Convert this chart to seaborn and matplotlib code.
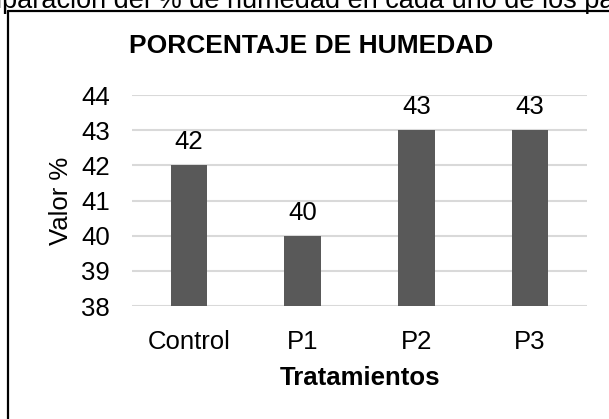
import matplotlib
matplotlib.use("Agg")
import matplotlib.pyplot as plt
import seaborn as sns
import pandas as pd
from matplotlib.lines import Line2D

categorias = ["Control", "P1", "P2", "P3"]
valores = [42, 40, 43, 43]
yticks = [38, 39, 40, 41, 42, 43, 44]
titulo = "PORCENTAJE DE HUMEDAD"
xlabel = "Tratamientos"
ylabel = "Valor %"
caption = "Comparación del % de humedad en cada uno de los parámetros"

sns.set_theme(style="white")
plt.rcParams["font.family"] = ["Liberation Sans", "DejaVu Sans"]
plt.rcParams["text.color"] = "black"
plt.rcParams["axes.labelcolor"] = "black"

W, H = 609, 419
fig = plt.figure(figsize=(W / 100, H / 100), dpi=100)
ax = fig.add_axes([132 / W, 1 - 306 / H, (587 - 132) / W, (306 - 95) / H])

df = pd.DataFrame({"cat": categorias, "val": valores})
sns.barplot(data=df, x="cat", y="val", color="#595959", width=0.32, ax=ax,
            saturation=1, zorder=3)
for p in ax.patches:
    p.set_edgecolor("none")

ax.set_ylim(38, 44)
ax.set_xlim(-0.5, 3.5)
ax.set_yticks(yticks)
ax.set_yticklabels([str(v) for v in yticks])
ax.yaxis.grid(True, color="#d9d9d9", linewidth=1.5, zorder=0)
ax.set_axisbelow(True)
for s in ax.spines.values():
    s.set_visible(False)
ax.tick_params(axis="both", length=0, labelsize=18.5, colors="black")
ax.tick_params(axis="x", pad=17)
ax.tick_params(axis="y", pad=16)

for c in ax.containers:
    ax.bar_label(c, labels=[str(v) for v in valores], fontsize=18.5, padding=8, color="black")

ax.set_xlabel(xlabel, fontsize=18.5, fontweight="bold", labelpad=9, color="black")
ax.set_ylabel(ylabel, fontsize=18.5, labelpad=6, color="black")
fig.text(311 / W, 1 - 46 / H, titulo, fontsize=19, fontweight="bold", ha="center",
         va="center", color="black")

# frame
fig.add_artist(Line2D([7.5 / W, 7.5 / W], [0, 1 - 11 / H], color="black", linewidth=1.6))
fig.add_artist(Line2D([7.5 / W, 1], [1 - 11 / H, 1 - 11 / H], color="black", linewidth=1.6))

# clipped caption at the top
fs_cap = 19.5
fig.canvas.draw()
r = fig.canvas.get_renderer()
t0 = fig.text(0, 0, "Com", fontsize=fs_cap)
wcom = t0.get_window_extent(renderer=r).width
t0.remove()
fig.text((2 - wcom) / W, 1 - 8 / H, caption, fontsize=fs_cap, ha="left", va="baseline",
         color="black")

fig.savefig("out.png", dpi=100)
